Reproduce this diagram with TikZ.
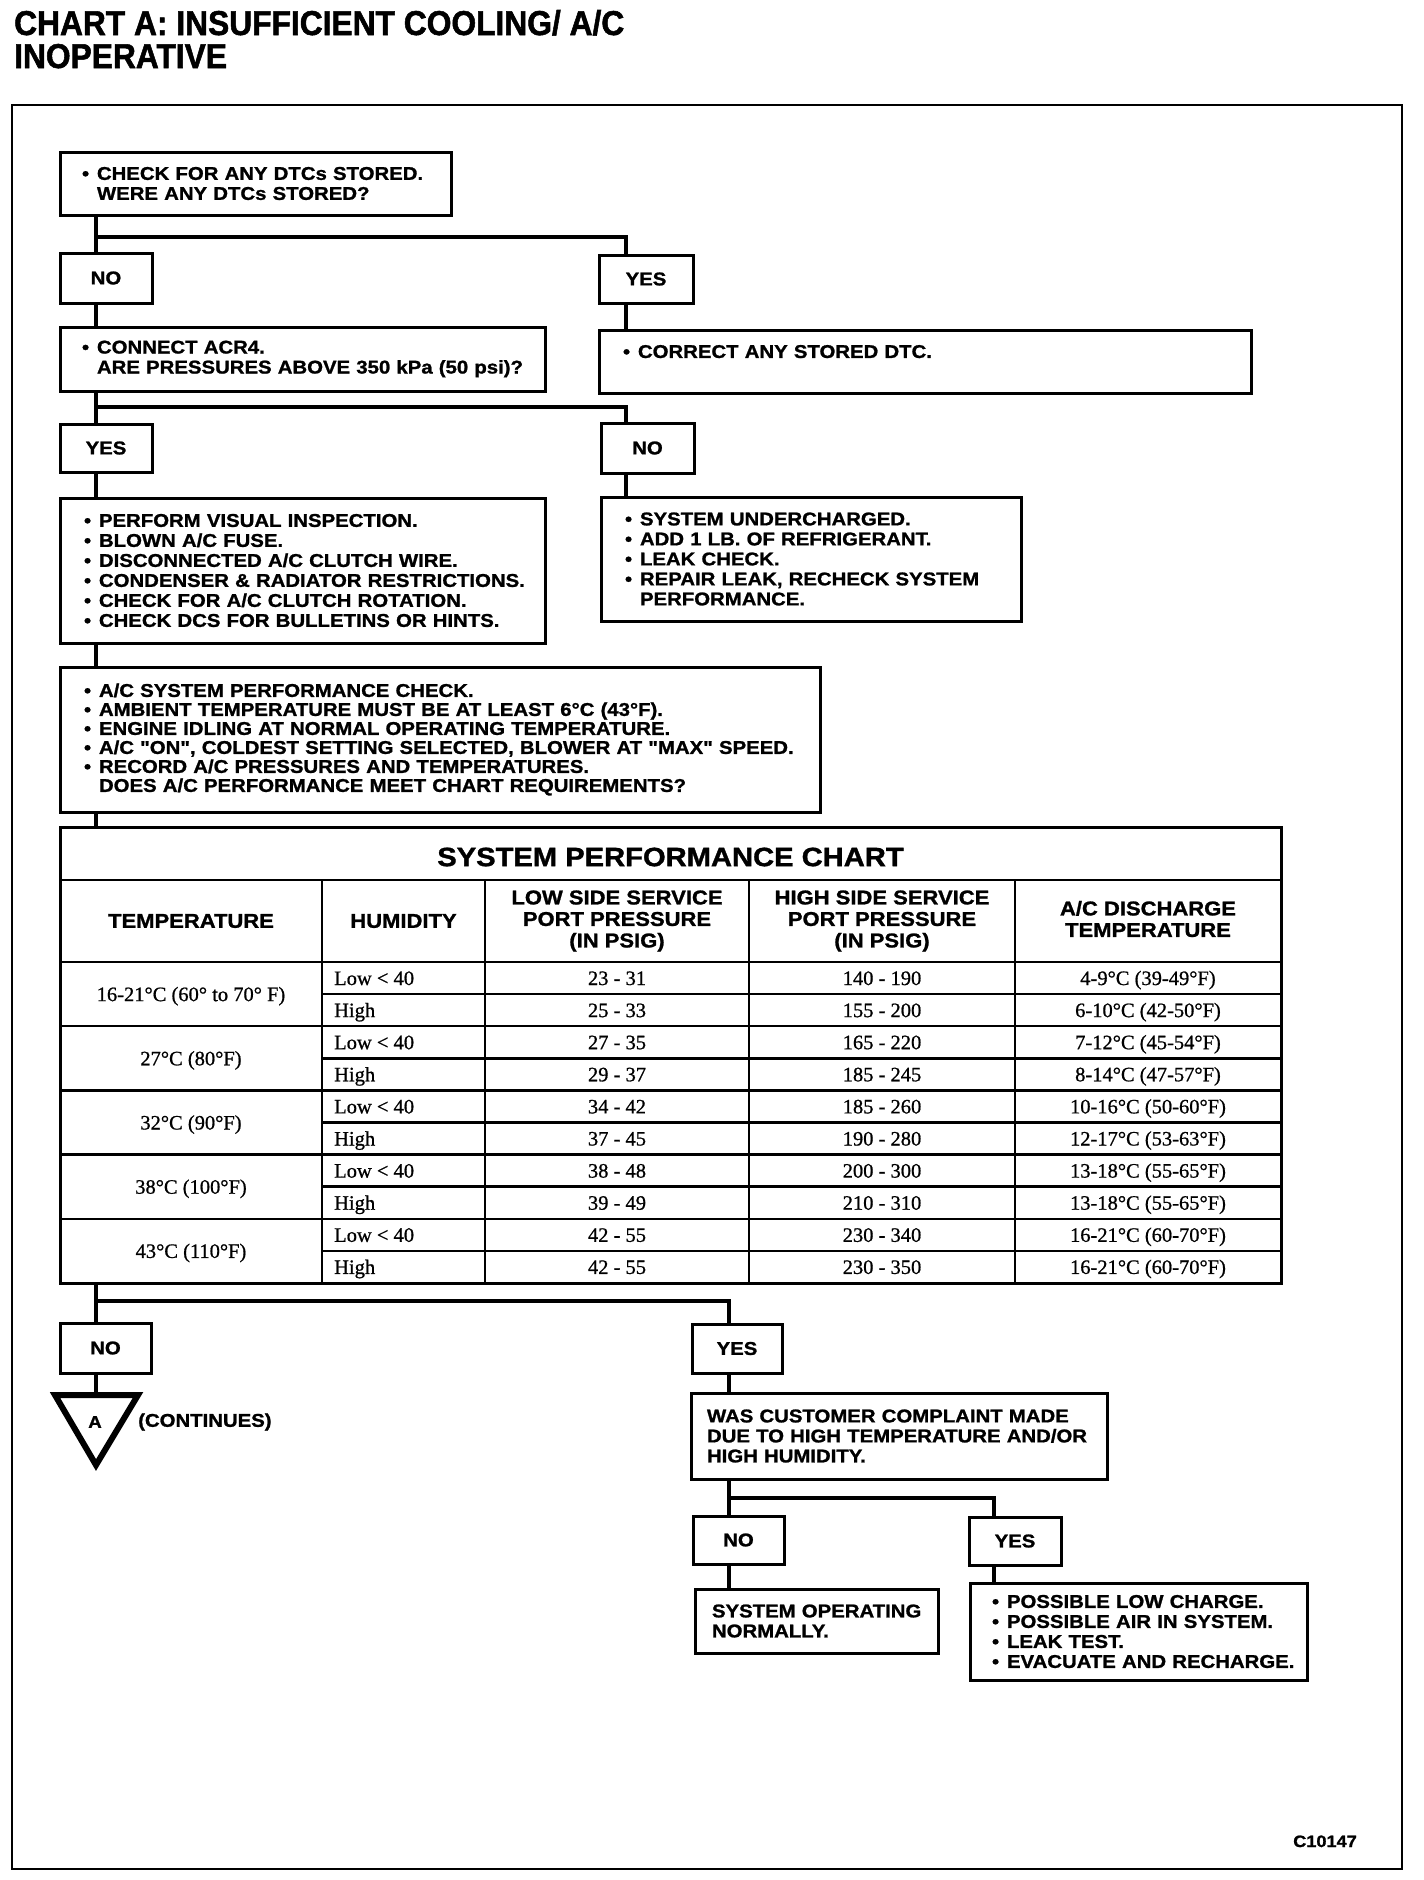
\documentclass[tikz,border=0pt]{standalone}
\usepackage{fontspec}
\newfontfamily\cf{Liberation Sans}[UprightFont={* Bold},FakeStretch=1.1,FakeBold=1.2]
\newfontfamily\ttlf{Liberation Sans}[UprightFont={* Bold},FakeStretch=0.92,FakeBold=1.5]
\newfontfamily\dataf{Liberation Serif}[FakeBold=0.8]
\newcommand\bul[1]{\mbox{\makebox[15pt][l]{•}#1}}
\newcommand\cnt[1]{\mbox{\hspace*{15pt}#1}}
\newcommand\pl[1]{\mbox{#1}}
% box: [extra]{name}{L}{T}{R}{B}{pad}{text}
\newcommand\bx[8][]{%
  \pgfmathsetmacro\bxw{#5-#3-2*#7}%
  \pgfmathsetmacro\bxh{#6-#4}%
  \node[box, inner xsep=#7pt, text width=\bxw pt, minimum height=\bxh pt, #1] (#2) at ({(#3+#5)/2},{(#4+#6)/2}) {#8};}
% yes/no box: {name}{L}{T}{R}{B}{text}
\newcommand\yn[6]{%
  \pgfmathsetmacro\bxw{#4-#2}%
  \pgfmathsetmacro\bxh{#5-#3}%
  \node[ynbox, minimum width=\bxw pt, minimum height=\bxh pt] (#1) at ({(#2+#4)/2},{(#3+#5)/2}) {#6};}
\begin{document}
\begin{tikzpicture}[x=1pt,y=-1pt,
  box/.style={draw, line width=3pt, align=left, inner ysep=0pt, font=\cf\fontsize{18.5}{20}\selectfont},
  ynbox/.style={draw, line width=3pt, align=center, inner sep=0pt, font=\cf\fontsize{18.5}{20}\selectfont},
  conn/.style={line width=4.5pt, line join=miter, line cap=butt},
  tline/.style={line width=2.5pt},
  hdr/.style={align=center, inner sep=0pt, font=\cf\fontsize{20}{21.5}\selectfont},
  dat/.style={inner sep=0pt, font=\dataf\fontsize{20.5}{22}\selectfont}]
\useasboundingbox (0,0) rectangle (1424,1880);
\fill[white] (0,0) rectangle (1424,1880);

% title
\node[font=\ttlf\fontsize{34.5}{36}\selectfont, anchor=base west, inner sep=0pt] (t1) at (14,35) {CHART A: INSUFFICIENT COOLING/ A/C};
\node[font=\ttlf\fontsize{34.5}{36}\selectfont, anchor=base west, inner sep=0pt] (t2) at (14,68) {INOPERATIVE};

% frame
\draw[line width=2.5pt] (12,105) rectangle (1402,1869);

% boxes
\bx{b1}{60}{152}{451}{215}{22}{\bul{CHECK FOR ANY DTCs STORED.}\\\cnt{WERE ANY DTCs STORED?}}
\yn{no1}{60}{253}{152}{303}{NO}
\yn{yes1}{599}{255}{693}{303}{YES}
\bx{b2}{60}{327}{545}{391}{22}{\bul{CONNECT ACR4.}\\\cnt{ARE PRESSURES ABOVE 350 kPa (50 psi)?}}
\bx{b3}{599}{330}{1251}{393}{24}{\bul{CORRECT ANY STORED DTC.}\\\mbox{}}
\yn{yes2}{60}{424}{152}{472}{YES}
\yn{no2}{601}{423}{694}{473}{NO}
\bx{b4}{60}{498}{545}{643}{24}{\bul{PERFORM VISUAL INSPECTION.}\\\bul{BLOWN A/C FUSE.}\\\bul{DISCONNECTED A/C CLUTCH WIRE.}\\\bul{CONDENSER \& RADIATOR RESTRICTIONS.}\\\bul{CHECK FOR A/C CLUTCH ROTATION.}\\\bul{CHECK DCS FOR BULLETINS OR HINTS.}}
\bx{b5}{601}{497}{1021}{621}{24}{\bul{SYSTEM UNDERCHARGED.}\\\bul{ADD 1 LB. OF REFRIGERANT.}\\\bul{LEAK CHECK.}\\\bul{REPAIR LEAK, RECHECK SYSTEM}\\\cnt{PERFORMANCE.}}
\bx[font=\cf\fontsize{18.5}{19}\selectfont]{b6}{60}{667}{820}{812}{24}{\bul{A/C SYSTEM PERFORMANCE CHECK.}\\\bul{AMBIENT TEMPERATURE MUST BE AT LEAST 6°C (43°F).}\\\bul{ENGINE IDLING AT NORMAL OPERATING TEMPERATURE.}\\\bul{A/C "ON", COLDEST SETTING SELECTED, BLOWER AT "MAX" SPEED.}\\\bul{RECORD A/C PRESSURES AND TEMPERATURES.}\\\cnt{DOES A/C PERFORMANCE MEET CHART REQUIREMENTS?}}

% table
\node[draw, line width=3pt, minimum width=1221pt, minimum height=456pt, inner sep=0pt] (tbl) at (670.5,1055) {};
\draw[tline] (60,880) -- (1281,880);
\draw[tline] (60,962) -- (1281,962);
\foreach \xx in {322,485,749,1015} { \draw[tline] (\xx,880) -- (\xx,1283); }
\foreach \g in {1,2,3,4} { \draw[tline] (60,{962+64.2*\g}) -- (1281,{962+64.2*\g}); }
\foreach \g in {0,1,2,3,4} { \draw[tline] (322,{962+64.2*\g+32.1}) -- (1281,{962+64.2*\g+32.1}); }
\node[inner sep=0pt, font=\cf\fontsize{26.5}{28}\selectfont] (ttl) at (670.5,857) {SYSTEM PERFORMANCE CHART};
\node[hdr] (h1) at (191,921) {TEMPERATURE};
\node[hdr] (h2) at (403.5,921) {HUMIDITY};
\node[hdr] (h3) at (617,921) {LOW SIDE SERVICE\\PORT PRESSURE\\(IN PSIG)};
\node[hdr] (h4) at (882,921) {HIGH SIDE SERVICE\\PORT PRESSURE\\(IN PSIG)};
\node[hdr] (h5) at (1148,919) {A/C DISCHARGE\\TEMPERATURE};
\foreach \g/\tmp in {0/{16-21°C (60° to 70° F)},1/{27°C (80°F)},2/{32°C (90°F)},3/{38°C (100°F)},4/{43°C (110°F)}} {
  \node[dat, anchor=base] (tg\g) at (191,{962+64.2*\g+32.1+7}) {\tmp};
}
\foreach \r/\hum/\lo/\hi/\dis in {
  0/{Low < 40}/{23 - 31}/{140 - 190}/{4-9°C (39-49°F)},
  1/{High}/{25 - 33}/{155 - 200}/{6-10°C (42-50°F)},
  2/{Low < 40}/{27 - 35}/{165 - 220}/{7-12°C (45-54°F)},
  3/{High}/{29 - 37}/{185 - 245}/{8-14°C (47-57°F)},
  4/{Low < 40}/{34 - 42}/{185 - 260}/{10-16°C (50-60°F)},
  5/{High}/{37 - 45}/{190 - 280}/{12-17°C (53-63°F)},
  6/{Low < 40}/{38 - 48}/{200 - 300}/{13-18°C (55-65°F)},
  7/{High}/{39 - 49}/{210 - 310}/{13-18°C (55-65°F)},
  8/{Low < 40}/{42 - 55}/{230 - 340}/{16-21°C (60-70°F)},
  9/{High}/{42 - 55}/{230 - 350}/{16-21°C (60-70°F)}} {
  \node[dat, anchor=base west] (rh\r) at (334,{962+32.1*\r+16+7}) {\hum};
  \node[dat, anchor=base] (rl\r) at (617,{962+32.1*\r+16+7}) {\lo};
  \node[dat, anchor=base] (rp\r) at (882,{962+32.1*\r+16+7}) {\hi};
  \node[dat, anchor=base] (rd\r) at (1148,{962+32.1*\r+16+7}) {\dis};
}

% lower part
\yn{no3}{60}{1323}{151}{1373}{NO}
\yn{yes3}{692}{1324}{782}{1373}{YES}
\draw[line width=6pt, line join=miter] (55,1395) -- (138,1395) -- (96,1465) -- cycle;
\coordinate (tri) at (96,1395);
\node[inner sep=0pt, font=\cf\fontsize{17}{18}\selectfont] (lblA) at (95,1422) {A};
\node[inner sep=0pt, anchor=west, font=\cf\fontsize{18.5}{20}\selectfont] (cont) at (138,1422) {(CONTINUES)};
\bx{b7}{691}{1393}{1107}{1479}{16}{\pl{WAS CUSTOMER COMPLAINT MADE}\\\pl{DUE TO HIGH TEMPERATURE AND/OR}\\\pl{HIGH HUMIDITY.}}
\yn{no4}{693}{1516}{784}{1564}{NO}
\yn{yes4}{969}{1517}{1061}{1565}{YES}
\bx{b8}{695}{1589}{938}{1653}{17}{\pl{SYSTEM OPERATING}\\\pl{NORMALLY.}}
\bx{b9}{970}{1583}{1307}{1680}{22}{\bul{POSSIBLE LOW CHARGE.}\\\bul{POSSIBLE AIR IN SYSTEM.}\\\bul{LEAK TEST.}\\\bul{EVACUATE AND RECHARGE.}}

\node[font=\cf\fontsize{16.5}{18}\selectfont, anchor=base east, inner sep=0pt] (code) at (1357,1847) {C10147};

% connectors
\coordinate (xL) at (96,0);
\coordinate (xR) at (626,0);
\coordinate (xB) at (729,0);
\coordinate (xC) at (994,0);
\coordinate (j1) at (96,237);
\coordinate (j2) at (96,407);
\coordinate (j3) at (96,1301);
\coordinate (j4) at (729,1498);
\draw[conn] (b1.south -| xL) -- (no1.north -| xL);
\draw[conn] (j1) -| (yes1.north -| xR);
\draw[conn] (no1.south -| xL) -- (b2.north -| xL);
\draw[conn] (yes1.south -| xR) -- (b3.north -| xR);
\draw[conn] (b2.south -| xL) -- (yes2.north -| xL);
\draw[conn] (j2) -| (no2.north -| xR);
\draw[conn] (yes2.south -| xL) -- (b4.north -| xL);
\draw[conn] (no2.south -| xR) -- (b5.north -| xR);
\draw[conn] (b4.south -| xL) -- (b6.north -| xL);
\draw[conn] (b6.south -| xL) -- (tbl.north -| xL);
\draw[conn] (tbl.south -| xL) -- (no3.north -| xL);
\draw[conn] (j3) -| (yes3.north -| xB);
\draw[conn] (no3.south -| xL) -- (tri);
\draw[conn] (yes3.south -| xB) -- (b7.north -| xB);
\draw[conn] (b7.south -| xB) -- (no4.north -| xB);
\draw[conn] (j4) -| (yes4.north -| xC);
\draw[conn] (no4.south -| xB) -- (b8.north -| xB);
\draw[conn] (yes4.south -| xC) -- (b9.north -| xC);
\end{tikzpicture}
\end{document}
